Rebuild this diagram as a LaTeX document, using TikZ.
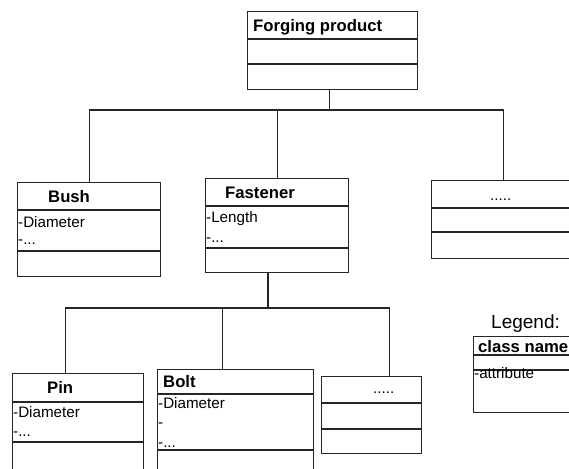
\documentclass[tikz,border=0pt]{standalone}
\usepackage{fontspec}
\setmainfont{Liberation Sans}
\usetikzlibrary{calc}
\begin{document}
\begin{tikzpicture}[x=1pt,y=-1pt]
\tikzset{
  cls/.style={draw=black!85, line width=1.2pt, inner sep=0pt, anchor=north west},
  div/.style={draw=black!85, line width=1.2pt},
  conn/.style={draw=black!85, line width=1.2pt},
  lbl/.style={anchor=base west, inner sep=0pt, font=\fontsize{15.2}{16}\selectfont},
  ttl/.style={anchor=base west, inner sep=0pt, font=\fontsize{16.7}{17}\selectfont\bfseries}
}
\useasboundingbox (0,0) rectangle (569,468);
% class boxes
\node[cls, minimum width=170, minimum height=78] (fp) at (247,11) {};
\node[cls, minimum width=143, minimum height=94] (bush) at (17,182) {};
\node[cls, minimum width=143, minimum height=94] (fast) at (205,178) {};
\node[cls, minimum width=144, minimum height=78] (dotsA) at (431,180) {};
\node[cls, minimum width=131, minimum height=110] (pin) at (12,373) {};
\node[cls, minimum width=156, minimum height=110] (bolt) at (157,369) {};
\node[cls, minimum width=100, minimum height=77] (dotsB) at (321,376) {};
\node[cls, minimum width=110, minimum height=76] (leg) at (473,336) {};
% dividers
\draw[div] (fp.west |- 0,39) -- (fp.east |- 0,39);
\draw[div] (fp.west |- 0,64) -- (fp.east |- 0,64);
\draw[line width=2pt, black!85] (394,39) -- (fp.east |- 0,39);
\draw[line width=2pt, black!85] (394,64) -- (fp.east |- 0,64);
\draw[div] (bush.west |- 0,210) -- (bush.east |- 0,210);
\draw[div] (bush.west |- 0,251) -- (bush.east |- 0,251);
\draw[div] (fast.west |- 0,206) -- (fast.east |- 0,206);
\draw[div] (fast.west |- 0,248) -- (fast.east |- 0,248);
\draw[div] (dotsA.west |- 0,208) -- (dotsA.east |- 0,208);
\draw[div] (dotsA.west |- 0,232) -- (dotsA.east |- 0,232);
\draw[div] (pin.west |- 0,402) -- (pin.east |- 0,402);
\draw[div] (pin.west |- 0,442) -- (pin.east |- 0,442);
\draw[div] (bolt.west |- 0,394) -- (bolt.east |- 0,394);
\draw[div] (bolt.west |- 0,450) -- (bolt.east |- 0,450);
\draw[div] (dotsB.west |- 0,403) -- (dotsB.east |- 0,403);
\draw[div] (dotsB.west |- 0,429) -- (dotsB.east |- 0,429);
\draw[div] (leg.west |- 0,355) -- (leg.east |- 0,355);
\draw[div] (leg.west |- 0,370) -- (leg.east |- 0,370);
% texts
\node[ttl] (tfp) at (253,32) {Forging product};
\node[ttl] (tbush) at (48,202) {Bush};
\node[lbl] (abush1) at (18,227) {-Diameter};
\node[lbl] (abush2) at (18,244) {-...};
\node[ttl] (tfast) at (225,198) {Fastener};
\node[lbl] (afast1) at (206,222) {-Length};
\node[lbl] (afast2) at (206,242) {-...};
\node[lbl] (tdotsA) at (490,200) {.....};
\node[ttl] (tpin) at (47,393) {Pin};
\node[lbl] (apin1) at (13,417) {-Diameter};
\node[lbl] (apin2) at (13,436) {-...};
\node[ttl] (tbolt) at (163,387) {Bolt};
\node[lbl] (abolt1) at (158,408) {-Diameter};
\node[lbl] (abolt2) at (158,427) {-};
\node[lbl] (abolt3) at (158,447) {-...};
\node[lbl] (tdotsB) at (373,393) {.....};
\node[lbl, font=\fontsize{19}{19}\selectfont] (tleg) at (491,328) {Legend:};
\node[ttl] (tcls) at (478,352) {class name};
\node[lbl] (tattr) at (474,378) {-attribute};
% connectors
\coordinate (busA) at (0,110);
\coordinate (busB) at (0,308);
\coordinate (fpb) at ($(fp.south west)!0.483!(fp.south east)$);
\draw[conn] (fpb) -- (fpb |- busA);
\draw[conn] (bush.north) -- (bush.north |- busA) -- (dotsA.north |- busA) -- (dotsA.north);
\draw[conn] (fast.north) -- (fast.north |- busA);
\coordinate (fastb) at ($(fast.south west)!0.437!(fast.south east)$);
\coordinate (pint) at ($(pin.north west)!0.405!(pin.north east)$);
\coordinate (boltt) at ($(bolt.north west)!0.417!(bolt.north east)$);
\coordinate (dotsBt) at ($(dotsB.north west)!0.68!(dotsB.north east)$);
\draw[conn] (fastb) -- (fastb |- busB);
\draw[conn] (pint) -- (pint |- busB) -- (dotsBt |- busB) -- (dotsBt);
\draw[conn] (boltt) -- (boltt |- busB);
\end{tikzpicture}
\end{document}
